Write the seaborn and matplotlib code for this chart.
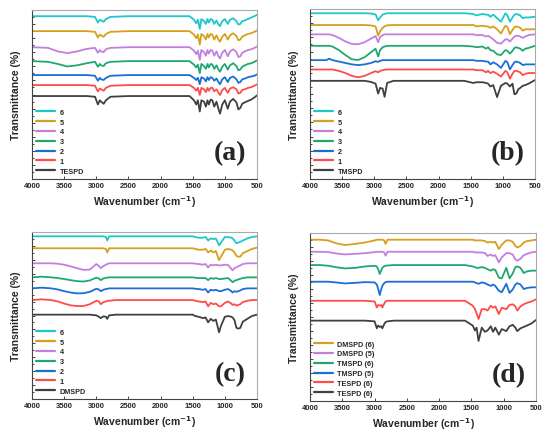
import numpy as np
import pandas as pd
import matplotlib
matplotlib.use("Agg")
import matplotlib.pyplot as plt
import seaborn as sns
from matplotlib.ticker import MultipleLocator

# ---- data: FTIR spectra (relative transmittance, stacked) ----
# colours used for the series, bottom curve first
colors = ["#404040", "#ff4b4b", "#1a6fd6", "#1fa870", "#c27fe0", "#d6a01c", "#1ec8c8"]

# (a) TESPD series
wn_a = [4000, 3750, 3600, 3450, 3300, 3150, 3020, 2975, 2945, 2925, 2885, 2850, 2780, 2500,
        1550, 1480, 1445, 1420, 1390, 1365, 1325, 1295, 1270, 1250, 1220, 1195, 1165, 1130,
        1100, 1075, 1040, 1000, 955, 920, 870, 820, 790, 760, 730, 690, 640, 590, 540, 500]
labels_a = ["TESPD", "1", "2", "3", "4", "5", "6"]
offsets_a = [5.89, 6.67, 7.38, 8.37, 9.36, 10.5, 11.56]
a_tespd = [0, 0, 0, 0, 0, 0, -0.05, -0.6, -0.3, -0.4, -0.55, -0.3, -0.05, 0, 0, -0.3, -0.6, -0.3, -1.1, -0.3, -0.4, -0.75, -0.3, -0.6, -0.25, -0.3, -0.75, -0.4, -0.9, -1.25, -0.6, -0.3, -0.9, -0.4, -0.2, -0.45, -0.95, -0.85, -0.55, -0.45, -0.35, -0.25, -0.1, 0.05]
a_1 = [0, 0, 0, 0, 0, 0, -0.05, -0.45, -0.25, -0.3, -0.4, -0.2, -0.05, 0, 0, -0.2, -0.4, -0.2, -0.7, -0.2, -0.3, -0.5, -0.2, -0.4, -0.2, -0.2, -0.45, -0.3, -0.55, -0.7, -0.35, -0.2, -0.55, -0.25, -0.15, -0.3, -0.6, -0.55, -0.35, -0.3, -0.2, -0.15, -0.05, 0.05]
a_2 = [0, 0, 0, 0, 0, 0, -0.05, -0.4, -0.2, -0.3, -0.35, -0.2, -0.05, 0, 0, -0.2, -0.35, -0.2, -0.65, -0.15, -0.25, -0.45, -0.15, -0.35, -0.15, -0.2, -0.4, -0.25, -0.5, -0.65, -0.3, -0.15, -0.5, -0.2, -0.1, -0.3, -0.55, -0.5, -0.3, -0.25, -0.15, -0.1, -0.05, 0.05]
a_3 = [0, -0.05, -0.2, -0.38, -0.3, -0.15, -0.05, -0.4, -0.2, -0.3, -0.35, -0.15, -0.05, 0, 0, -0.25, -0.45, -0.25, -0.85, -0.2, -0.35, -0.55, -0.2, -0.45, -0.2, -0.25, -0.55, -0.3, -0.6, -0.75, -0.4, -0.2, -0.6, -0.3, -0.15, -0.35, -0.65, -0.6, -0.4, -0.3, -0.2, -0.15, -0.05, 0.05]
a_4 = [0, -0.05, -0.3, -0.42, -0.3, -0.12, -0.05, -0.4, -0.2, -0.3, -0.35, -0.15, -0.05, 0, 0, -0.25, -0.5, -0.25, -0.9, -0.2, -0.35, -0.6, -0.2, -0.45, -0.2, -0.25, -0.6, -0.3, -0.65, -0.8, -0.4, -0.2, -0.65, -0.3, -0.15, -0.35, -0.7, -0.65, -0.4, -0.3, -0.2, -0.15, -0.05, 0.05]
a_5 = [0, 0, 0, 0, 0, 0, -0.05, -0.45, -0.25, -0.3, -0.4, -0.2, -0.05, 0, 0, -0.25, -0.5, -0.25, -0.95, -0.2, -0.35, -0.6, -0.2, -0.45, -0.2, -0.25, -0.6, -0.3, -0.6, -0.75, -0.4, -0.2, -0.6, -0.3, -0.15, -0.35, -0.65, -0.6, -0.4, -0.3, -0.2, -0.15, -0.05, 0.05]
a_6 = [0, 0, 0, 0, 0, 0, -0.05, -0.45, -0.25, -0.3, -0.4, -0.2, -0.05, 0, 0, -0.25, -0.5, -0.25, -0.9, -0.2, -0.35, -0.55, -0.2, -0.45, -0.2, -0.25, -0.55, -0.3, -0.6, -0.7, -0.35, -0.2, -0.55, -0.25, -0.15, -0.35, -0.6, -0.55, -0.35, -0.3, -0.2, -0.1, 0, 0.1]

# (b) TMSPD series
wn_b = [4000, 3750, 3700, 3650, 3550, 3450, 3350, 3250, 3150, 3050, 2980, 2940, 2910, 2870,
        2840, 2800, 2700, 2500, 2000, 1600, 1460, 1410, 1320, 1260, 1230, 1195, 1150, 1090,
        1030, 960, 930, 890, 850, 820, 790, 760, 730, 690, 650, 600, 500]
labels_b = ["TMSPD", "1", "2", "3", "4", "5", "6"]
offsets_b = [6.93, 7.73, 8.39, 9.4, 10.21, 10.87, 11.7]
b_tmspd = [0, 0, 0, 0, 0, 0, 0, 0, 0, -0.08, -0.2, -0.9, -0.5, -0.55, -1.13, -0.15, 0, 0, 0, 0, -0.15, -0.1, -0.1, -0.15, -0.2, -0.4, -0.3, -1.15, -0.35, -0.15, -0.2, -0.4, -0.2, -0.95, -0.9, -0.6, -0.5, -0.35, -0.3, -0.2, 0.05]
b_1 = [0, 0, 0, 0, -0.1, -0.25, -0.45, -0.55, -0.45, -0.25, -0.12, -0.2, -0.1, -0.05, -0.02, 0, 0, 0, 0, 0, 0, -0.05, -0.05, -0.2, -0.1, -0.25, -0.15, -0.3, -0.5, -0.1, -0.2, -0.65, -0.3, -0.1, -0.1, -0.15, -0.2, -0.4, -0.3, -0.25, -0.25]
b_2 = [0, 0, 0.1, 0, -0.1, -0.2, -0.3, -0.35, -0.3, -0.2, -0.08, -0.12, -0.05, 0, 0, 0, 0, 0, 0, 0, 0, -0.05, -0.05, -0.1, -0.1, -0.3, -0.15, -0.3, -0.55, -0.05, -0.15, -0.65, -0.35, -0.15, -0.1, -0.15, -0.2, -0.35, -0.3, -0.3, -0.3]
b_3 = [0, 0, 0, -0.05, -0.3, -0.65, -0.95, -1.0, -0.8, -0.45, -0.2, -0.75, -0.3, -0.1, -0.05, 0, 0, 0, 0, 0, -0.05, -0.1, -0.05, -0.2, -0.1, -0.3, -0.35, -0.6, -0.65, -0.3, -0.35, -0.55, -0.35, -0.15, -0.1, -0.15, -0.2, -0.35, -0.2, -0.15, 0]
b_4 = [0, 0, 0, -0.05, -0.25, -0.5, -0.68, -0.7, -0.55, -0.3, -0.12, -0.55, -0.2, -0.05, 0, 0, 0, 0, 0, 0, 0, -0.05, -0.05, -0.15, -0.1, -0.2, -0.35, -0.6, -0.65, -0.35, -0.35, -0.5, -0.3, -0.15, -0.1, -0.1, -0.15, -0.25, -0.15, -0.05, 0]
b_5 = [0, 0, 0, 0, 0, 0, 0, 0, 0, -0.03, -0.1, -0.75, -0.45, -0.2, -0.1, -0.02, 0, 0, 0, 0, 0, -0.1, -0.05, -0.1, -0.1, -0.2, -0.1, -0.3, -0.6, -0.05, -0.15, -0.65, -0.35, -0.15, -0.1, -0.15, -0.2, -0.4, -0.3, -0.3, -0.3]
b_6 = [0, 0, 0, 0, 0, 0, 0, 0, 0, -0.02, -0.08, -0.5, -0.3, -0.1, -0.05, 0, 0, 0, 0, 0, -0.05, -0.15, -0.05, -0.1, -0.1, -0.25, -0.1, -0.35, -0.6, 0, -0.15, -0.6, -0.3, -0.1, -0.05, -0.1, -0.15, -0.35, -0.3, -0.3, -0.25]

# (c) DMSPD series
wn_c = [4000, 3850, 3700, 3600, 3500, 3400, 3300, 3200, 3100, 3000, 2960, 2930, 2890, 2850,
        2830, 2800, 2700, 2500, 2000, 1500, 1460, 1410, 1340, 1300, 1260, 1220, 1180, 1140,
        1090, 1060, 1000, 950, 900, 880, 850, 820, 790, 760, 720, 650, 580, 500]
labels_c = ["DMSPD", "1", "2", "3", "4", "5", "6"]
offsets_c = [6.06, 7.11, 7.95, 8.74, 9.75, 10.83, 11.69]
c_dmspd = [0, 0, 0, 0, 0, 0, 0, 0, 0, -0.05, -0.15, -0.25, -0.12, -0.15, -0.3, -0.05, 0, 0, 0, 0, -0.1, -0.15, -0.25, -0.2, -0.55, -0.3, -0.45, -0.35, -1.27, -0.8, -0.15, -0.1, -0.15, -0.2, -0.4, -0.95, -1.0, -0.95, -0.5, -0.3, -0.1, 0]
c_1 = [0, 0.05, 0, -0.1, -0.25, -0.38, -0.43, -0.43, -0.3, -0.05, -0.1, -0.3, -0.15, -0.1, -0.05, -0.05, 0, 0, 0, 0, -0.05, -0.1, -0.15, -0.1, -0.45, -0.2, -0.3, -0.25, -0.45, -0.45, -0.2, -0.1, -0.25, -0.35, -0.3, -0.4, -0.35, -0.3, -0.15, -0.05, 0, 0]
c_2 = [0, 0.05, 0, -0.08, -0.2, -0.3, -0.36, -0.35, -0.25, -0.03, -0.08, -0.2, -0.1, -0.05, -0.03, 0, 0, 0, 0, 0, -0.03, -0.05, -0.1, -0.05, -0.3, -0.1, -0.15, -0.1, -0.2, -0.2, -0.1, -0.05, -0.2, -0.3, -0.2, -0.25, -0.2, -0.15, -0.05, 0, 0, 0]
c_3 = [0, 0.05, 0, -0.05, -0.12, -0.2, -0.27, -0.3, -0.22, -0.02, -0.08, -0.2, -0.08, -0.03, -0.02, 0, 0, 0, 0, 0, -0.03, -0.05, -0.05, -0.05, -0.2, -0.05, -0.1, -0.05, -0.12, -0.12, -0.08, -0.05, -0.25, -0.35, -0.25, -0.2, -0.15, -0.1, -0.05, 0, 0, 0]
c_4 = [0, 0, 0, -0.03, -0.1, -0.22, -0.35, -0.47, -0.45, -0.05, -0.2, -0.35, -0.2, -0.1, -0.05, 0, 0, 0, 0, 0, -0.03, -0.05, -0.1, -0.05, -0.3, -0.1, -0.15, -0.1, -0.15, -0.15, -0.1, -0.12, -0.4, -0.5, -0.35, -0.3, -0.2, -0.15, -0.05, 0, 0, 0]
c_5 = [0, 0, 0, 0, 0, 0, 0, 0, 0, 0, 0, 0, 0, -0.05, -0.3, 0, 0, 0, 0, 0, -0.05, -0.1, -0.1, -0.05, -0.3, -0.15, -0.3, -0.2, -0.85, -0.6, -0.1, -0.05, -0.1, -0.15, -0.3, -0.55, -0.6, -0.6, -0.35, -0.2, -0.05, 0.05]
c_6 = [0, 0, 0, 0, 0, 0, 0, 0, 0, 0, 0, 0, 0, -0.05, -0.3, 0, 0, 0, 0, 0, -0.05, -0.1, -0.1, -0.05, -0.3, -0.15, -0.2, -0.15, -0.65, -0.45, -0.05, -0.05, -0.1, -0.15, -0.3, -0.5, -0.45, -0.4, -0.3, -0.15, -0.05, 0]

# (d) comparison of the (5)/(6) samples
wn_d = [4000, 3850, 3717, 3600, 3460, 3300, 3150, 3000, 2965, 2945, 2920, 2895, 2880, 2850,
        2830, 2800, 2700, 2500, 2000, 1600, 1480, 1445, 1420, 1390, 1340, 1290, 1250, 1200,
        1165, 1130, 1075, 1030, 960, 910, 860, 820, 790, 740, 690, 640, 570, 500]
labels_d = ["TESPD (6)", "TESPD (6)", "TMSPD (5)", "TMSPD (6)", "DMSPD (5)", "DMSPD (6)"]
offsets_d = [5.74, 7.16, 8.52, 9.71, 10.66, 11.52]
d_tespd_k = [0, 0, 0, 0, 0, 0, 0, -0.05, -0.55, -0.35, -0.45, -0.4, -0.55, -0.25, -0.1, -0.05, 0, 0, 0, 0, -0.35, -0.7, -0.5, -1.45, -0.5, -0.8, -0.7, -0.4, -0.8, -0.5, -1.0, -0.6, -0.75, -0.4, -0.3, -0.5, -0.75, -0.55, -0.45, -0.35, -0.2, 0.05]
d_tespd_r = [0, 0, 0, 0, 0, 0, 0, -0.05, -0.48, -0.3, -0.35, -0.3, -0.48, -0.2, -0.05, 0, 0, 0, 0, 0, -0.35, -0.6, -0.9, -1.3, -0.6, -0.6, -0.7, -0.35, -0.5, -0.4, -0.95, -0.5, -0.6, -0.3, -0.25, -0.4, -0.7, -0.4, -0.25, -0.15, -0.05, 0.1]
d_tmspd_5 = [0, 0, 0, -0.05, -0.12, -0.08, -0.03, -0.05, -0.2, -0.5, -0.95, -0.5, -0.3, -0.1, -0.03, 0, 0, 0, 0, 0, 0, -0.05, -0.1, -0.15, -0.05, -0.1, -0.2, -0.3, -0.2, -0.3, -0.65, -0.75, -0.15, -0.8, -0.55, -0.2, -0.1, -0.2, -0.52, -0.45, -0.4, -0.4]
d_tmspd_6 = [0, 0, -0.05, -0.15, -0.24, -0.2, -0.1, -0.05, -0.1, -0.3, -0.64, -0.35, -0.2, -0.08, -0.05, -0.03, 0, 0, 0, 0, -0.1, -0.15, -0.2, -0.2, -0.15, -0.2, -0.3, -0.4, -0.3, -0.35, -0.9, -0.95, -0.2, -0.95, -0.6, -0.15, -0.1, -0.2, -0.57, -0.45, -0.4, -0.4]
d_dmspd_5 = [0, 0, -0.02, -0.12, -0.19, -0.15, -0.1, -0.03, 0, 0, 0, 0, 0, -0.05, -0.28, 0, 0, 0, 0, 0, 0, -0.05, -0.05, -0.05, -0.05, -0.1, -0.3, -0.2, -0.3, -0.25, -0.76, -0.4, -0.1, -0.1, -0.2, -0.55, -0.64, -0.5, -0.25, -0.15, -0.05, 0]
d_dmspd_6 = [0, 0, -0.05, -0.25, -0.38, -0.3, -0.2, -0.05, 0, 0, 0, 0, 0, -0.05, -0.3, 0, 0, 0, 0, 0, 0, -0.05, -0.05, -0.05, -0.05, -0.1, -0.2, -0.15, -0.2, -0.15, -0.67, -0.35, -0.05, -0.05, -0.15, -0.45, -0.55, -0.45, -0.2, -0.1, -0.05, 0]
colors_d = ["#404040", "#ff4b4b", "#1a6fd6", "#1fa870", "#c27fe0", "#d6a01c"]

xticks = [4000, 3500, 3000, 2500, 2000, 1500, 1000, 500]

sns.set_style("ticks")
plt.rcParams["font.family"] = ["Liberation Sans", "DejaVu Sans"]
plt.rcParams["font.weight"] = "bold"

fig = plt.figure(figsize=(5.5, 4.39), dpi=100)
W, H = 550, 439


def px_axes(left, top, right, bottom):
    return fig.add_axes([left / W, 1 - bottom / H, (right - left) / W, (bottom - top) / H])


def draw_panel(ax, wn, series, offsets, labels, cols, tag):
    keys = [f"s{i}" for i in range(len(series))]
    frames = []
    for k, vals, off in zip(keys, series, offsets):
        frames.append(pd.DataFrame({"wn": wn, "t": np.array(vals) + off, "series": k}))
    df = pd.concat(frames, ignore_index=True)
    sns.lineplot(data=df, x="wn", y="t", hue="series", hue_order=keys,
                 palette=dict(zip(keys, cols)), errorbar=None, sort=False,
                 linewidth=1.3, legend=False, ax=ax)
    ax.set_xlim(4000, 500)
    ax.set_ylim(0, 12)
    ax.set_xticks(xticks)
    ax.set_xticklabels([str(x) for x in xticks], fontsize=5.5, fontweight="bold")
    ax.yaxis.set_major_locator(MultipleLocator(1))
    ax.yaxis.set_minor_locator(MultipleLocator(0.5))
    ax.set_yticklabels([])
    ax.tick_params(axis="both", which="both", direction="in", length=2, width=0.6, pad=2)
    ax.tick_params(axis="y", which="minor", length=1.2)
    ax.set_xlabel("Wavenumber (cm$^{\\mathbf{-1}}$)", fontsize=7.5, fontweight="bold", labelpad=3)
    ax.set_ylabel("Transmittance (%)", fontsize=7.5, fontweight="bold", labelpad=6)
    for side in ["left", "bottom"]:
        ax.spines[side].set_color("#444444")
        ax.spines[side].set_linewidth(0.8)
    for side in ["top", "right"]:
        ax.spines[side].set_color("#aaaaaa")
        ax.spines[side].set_linewidth(0.8)
    lines = ax.lines[:len(series)]
    leg = ax.legend(lines[::-1], labels[::-1], loc="lower left", bbox_to_anchor=(0.0, 0.0),
                    frameon=False, fontsize=5.2, handlelength=2.6, handletextpad=0.6,
                    labelspacing=0.38, borderaxespad=0.3, borderpad=0.3)
    for h in leg.get_lines():
        h.set_linewidth(1.6)
    for t in leg.get_texts():
        t.set_fontweight("bold")
    ax.text(0.88, 0.155, tag, transform=ax.transAxes, ha="center", va="center",
            fontsize=20, fontweight="bold", family="Liberation Serif")


ax_a = px_axes(32, 11, 257, 180)
draw_panel(ax_a, wn_a, [a_tespd, a_1, a_2, a_3, a_4, a_5, a_6], offsets_a, labels_a, colors, "(a)")

ax_b = px_axes(310, 10, 535, 180)
draw_panel(ax_b, wn_b, [b_tmspd, b_1, b_2, b_3, b_4, b_5, b_6], offsets_b, labels_b, colors, "(b)")

ax_c = px_axes(32, 233, 257, 400)
draw_panel(ax_c, wn_c, [c_dmspd, c_1, c_2, c_3, c_4, c_5, c_6], offsets_c, labels_c, colors, "(c)")

ax_d = px_axes(310, 234, 536, 402)
draw_panel(ax_d, wn_d, [d_tespd_k, d_tespd_r, d_tmspd_5, d_tmspd_6, d_dmspd_5, d_dmspd_6],
           offsets_d, labels_d, colors_d, "(d)")

fig.savefig("out.png", dpi=100)
plt.close(fig)
